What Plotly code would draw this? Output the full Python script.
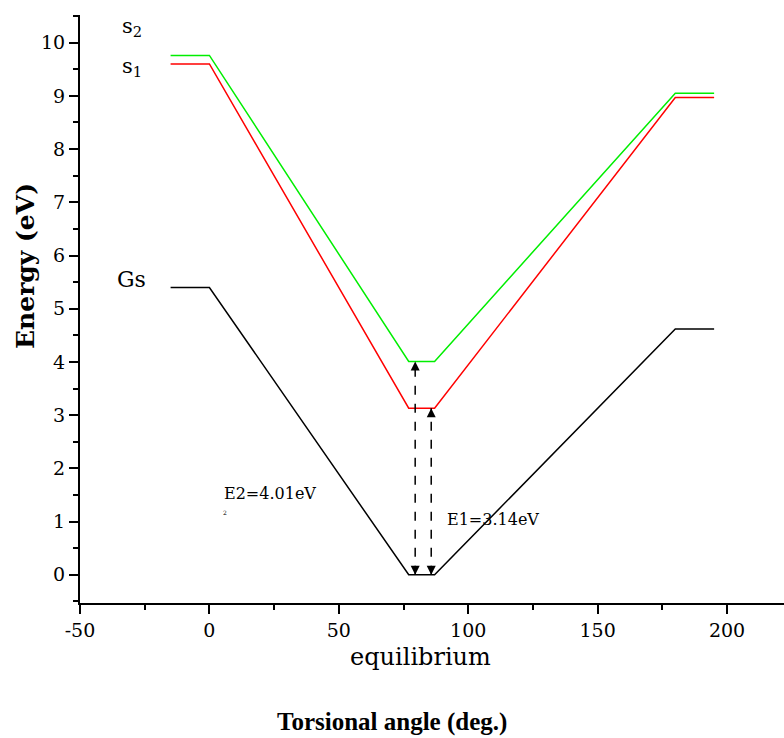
import plotly.graph_objects as go

angle = [-15, 0, 77, 87, 180, 195]
gs = [5.4, 5.4, 0.0, 0.0, 4.62, 4.62]
s1 = [9.6, 9.6, 3.13, 3.13, 8.97, 8.97]
s2 = [9.76, 9.76, 4.01, 4.01, 9.05, 9.05]

x_ticks = [-50, 0, 50, 100, 150, 200]
x_ticktext = ["-50", "0", "50", "100", "150", "200"]
y_ticks = list(range(0, 11))

e2_x = 79.5
e2_y = [0.0, 4.01]
e1_x = 85.7
e1_y = [0.0, 3.13]

SERIF = "DejaVu Serif, Liberation Serif, serif"

fig = go.Figure()
fig.add_trace(go.Scatter(x=angle, y=gs, mode="lines", line=dict(color="black", width=1.5)))
fig.add_trace(go.Scatter(x=angle, y=s1, mode="lines", line=dict(color="#ff0000", width=1.5)))
fig.add_trace(go.Scatter(x=angle, y=s2, mode="lines", line=dict(color="#00ee00", width=1.5)))
for xv, ys in [(e2_x, e2_y), (e1_x, e1_y)]:
    fig.add_trace(go.Scatter(x=[xv, xv], y=ys, mode="lines",
                             line=dict(color="black", width=1.5, dash="dash")))
    # arrowheads at both ends
    fig.add_trace(go.Scatter(x=[xv, xv], y=ys, mode="markers",
                             marker=dict(symbol=["arrow-down", "arrow-up"], size=9,
                                         color="black", line=dict(width=0))))

fig.add_annotation(x=-30, y=10.3, text="s<sub>2</sub>", showarrow=False,
                   font=dict(family=SERIF, size=21, color="black"))
fig.add_annotation(x=-30, y=9.55, text="s<sub>1</sub>", showarrow=False,
                   font=dict(family=SERIF, size=21, color="black"))
fig.add_annotation(x=-30, y=5.55, text="Gs", showarrow=False,
                   font=dict(family=SERIF, size=22, color="black"))
fig.add_annotation(x=5, y=1.52, text="E2=4.01eV", showarrow=False, xanchor="left",
                   font=dict(family=SERIF, size=16, color="black"))
fig.add_annotation(x=4.5, y=1.18, text="2", showarrow=False, xanchor="left",
                   font=dict(family=SERIF, size=6, color="black"))
fig.add_annotation(x=91, y=1.03, text="E1=3.14eV", showarrow=False, xanchor="left",
                   font=dict(family=SERIF, size=16, color="black"))

fig.add_annotation(x=(420 - 80) / 704, y=(603 - 657) / 588, xref="paper", yref="paper",
                   text="equilibrium", showarrow=False, xanchor="center", yanchor="middle",
                   font=dict(family=SERIF, size=24, color="black"))
fig.add_annotation(x=(392 - 80) / 704, y=(603 - 722) / 588, xref="paper", yref="paper",
                   text="<b>Torsional angle (deg.)</b>", showarrow=False,
                   xanchor="center", yanchor="middle",
                   font=dict(family="Liberation Serif, serif", size=25, color="black"))
fig.add_annotation(x=(25 - 80) / 704, y=(603 - 266) / 588, xref="paper", yref="paper",
                   text="<b>Energy (eV)</b>", showarrow=False, textangle=-90,
                   xanchor="center", yanchor="middle",
                   font=dict(family=SERIF, size=25, color="black"))

fig.update_layout(
    width=784, height=738,
    margin=dict(l=80, r=0, t=15, b=135),
    paper_bgcolor="white", plot_bgcolor="white",
    showlegend=False,
    xaxis=dict(range=[-50, 222], tickmode="array", tickvals=x_ticks, ticktext=x_ticktext,
               ticks="outside", ticklen=9, tickwidth=2, tickcolor="black",
               minor=dict(tickvals=[-25, 25, 75, 125, 175], ticks="outside", ticklen=5,
                          tickwidth=2, tickcolor="black"),
               showline=True, linecolor="black", linewidth=2, showgrid=False, zeroline=False,
               tickfont=dict(family=SERIF, size=19, color="black")),
    yaxis=dict(range=[-0.53, 10.52], tickmode="array", tickvals=y_ticks,
               ticks="outside", ticklen=9, tickwidth=2, tickcolor="black",
               minor=dict(tickvals=[i + 0.5 for i in range(-1, 11)], ticks="outside",
                          ticklen=5, tickwidth=2, tickcolor="black"),
               showline=True, linecolor="black", linewidth=2, showgrid=False, zeroline=False,
               tickfont=dict(family=SERIF, size=19, color="black")),
)

fig.write_html("out.html")
